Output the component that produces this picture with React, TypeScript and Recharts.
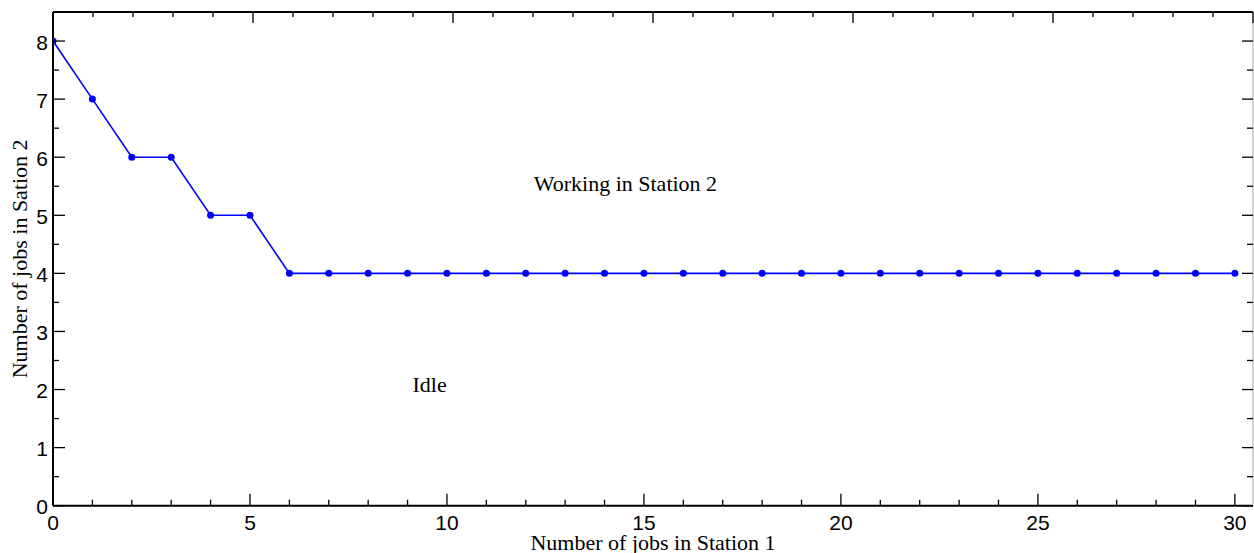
import React from "react";
import { LineChart, Line, XAxis, YAxis, ReferenceDot } from "recharts";

const jobsStation1 = [0, 1, 2, 3, 4, 5, 6, 7, 8, 9, 10, 11, 12, 13, 14, 15, 16, 17, 18, 19, 20, 21, 22, 23, 24, 25, 26, 27, 28, 29, 30];
const jobsStation2 = [8, 7, 6, 6, 5, 5, 4, 4, 4, 4, 4, 4, 4, 4, 4, 4, 4, 4, 4, 4, 4, 4, 4, 4, 4, 4, 4, 4, 4, 4, 4];

const xTicks = [0, 1, 2, 3, 4, 5, 6, 7, 8, 9, 10, 11, 12, 13, 14, 15, 16, 17, 18, 19, 20, 21, 22, 23, 24, 25, 26, 27, 28, 29, 30];
const xMajor = [0, 5, 10, 15, 20, 25, 30];
const yTicks = [0, 0.5, 1, 1.5, 2, 2.5, 3, 3.5, 4, 4.5, 5, 5.5, 6, 6.5, 7, 7.5, 8];
const yMajor = [0, 1, 2, 3, 4, 5, 6, 7, 8];

const annotations = [
  { x: 14.53, y: 5.42, text: "Working in Station 2" },
  { x: 9.56, y: 1.96, text: "Idle" },
];

const data = jobsStation1.map((x, i) => ({ x, y: jobsStation2[i] }));

const SANS = "'Liberation Sans', Arial, Helvetica, sans-serif";
const SERIF = "'Liberation Serif', 'Times New Roman', Times, serif";
const TICK_W = 1.3;

const BottomTick = (props: any) => {
  const { x, y, payload } = props;
  const major = xMajor.includes(payload.value);
  return (
    <g>
      <line x1={x} y1={y} x2={x} y2={y - (major ? 12 : 6)} stroke="#000" strokeWidth={TICK_W} />
      {major && (
        <text x={x} y={y + 24.5} textAnchor="middle" fontFamily={SANS} fontSize={21} fill="#000">
          {payload.value}
        </text>
      )}
    </g>
  );
};

const TopTick = (props: any) => {
  const { x, y, payload } = props;
  const major = xMajor.includes(payload.value);
  return <line x1={x} y1={y} x2={x} y2={y + (major ? 11 : 5)} stroke="#000" strokeWidth={TICK_W} />;
};

const LeftTick = (props: any) => {
  const { x, y, payload } = props;
  const major = yMajor.includes(payload.value);
  return (
    <g>
      <line x1={x} y1={y} x2={x + (major ? 12 : 6)} y2={y} stroke="#000" strokeWidth={TICK_W} />
      {major && (
        <text x={x - 5} y={y + 8.5} textAnchor="end" fontFamily={SANS} fontSize={21} fill="#000">
          {payload.value}
        </text>
      )}
    </g>
  );
};

const RightTick = (props: any) => {
  const { x, y, payload } = props;
  const major = yMajor.includes(payload.value);
  return <line x1={x} y1={y} x2={x - (major ? 11 : 6)} y2={y} stroke="#000" strokeWidth={TICK_W} />;
};

const XLabel = (props: any) => {
  const vb = props.viewBox || { x: 53, y: 505.7, width: 1200, height: 47.3 };
  return (
    <text x={vb.x + vb.width / 2} y={vb.y + 44.3} textAnchor="middle" fontFamily={SERIF} fontSize={22} fill="#000">
      Number of jobs in Station 1
    </text>
  );
};

const YLabel = (props: any) => {
  const vb = props.viewBox || { x: 0, y: 12, width: 53, height: 493.7 };
  const cx = vb.x + 27;
  const cy = vb.y + vb.height / 2;
  return (
    <text transform={`translate(${cx},${cy}) rotate(-90)`} textAnchor="middle" fontFamily={SERIF} fontSize={22} fill="#000">
      Number of jobs in Sation 2
    </text>
  );
};

export default function App() {
  return (
    <div style={{ position: "absolute", left: 0, top: 0, width: 1254, height: 553, background: "#fff" }}>
      <LineChart width={1254} height={553} data={data} margin={{ top: 11, right: 0, bottom: 0, left: 0 }}>
        <XAxis
          xAxisId="bottom"
          dataKey="x"
          type="number"
          domain={[0, 30.46]}
          ticks={xTicks}
          interval={0}
          height={47.3}
          tickSize={0}
          tickMargin={0}
          tickLine={false}
          axisLine={{ stroke: "#000", strokeWidth: 2 }}
          tick={<BottomTick />}
          label={<XLabel />}
          allowDataOverflow
        />
        <XAxis
          xAxisId="top"
          orientation="top"
          type="number"
          domain={[0, 30.46]}
          ticks={xTicks}
          interval={0}
          height={1}
          tickSize={0}
          tickMargin={0}
          tickLine={false}
          axisLine={{ stroke: "#000", strokeWidth: 2 }}
          tick={<TopTick />}
          allowDataOverflow
        />
        <YAxis
          yAxisId="left"
          type="number"
          domain={[0, 8.5]}
          ticks={yTicks}
          interval={0}
          width={53}
          tickSize={0}
          tickMargin={0}
          tickLine={false}
          axisLine={{ stroke: "#000", strokeWidth: 2 }}
          tick={<LeftTick />}
          label={<YLabel />}
          allowDataOverflow
        />
        <YAxis
          yAxisId="right"
          orientation="right"
          type="number"
          domain={[0, 8.5]}
          ticks={yTicks}
          interval={0}
          width={1}
          tickSize={0}
          tickMargin={0}
          tickLine={false}
          axisLine={{ stroke: "#aaa", strokeWidth: 1 }}
          tick={<RightTick />}
          allowDataOverflow
        />
        <Line
          xAxisId="bottom"
          yAxisId="left"
          type="linear"
          dataKey="y"
          stroke="#0000ff"
          strokeWidth={1.6}
          dot={{ r: 3.5, fill: "#0000ff", stroke: "#0000ff", strokeWidth: 0 }}
          activeDot={false}
          isAnimationActive={false}
        />
        {annotations.map((a) => (
          <ReferenceDot
            key={a.text}
            xAxisId="bottom"
            yAxisId="left"
            x={a.x}
            y={a.y}
            r={0}
            shape={(p: any) => (
              <text x={p.cx} y={p.cy} textAnchor="middle" fontFamily={SERIF} fontSize={22} fill="#000">
                {a.text}
              </text>
            )}
          />
        ))}
      </LineChart>
    </div>
  );
}
